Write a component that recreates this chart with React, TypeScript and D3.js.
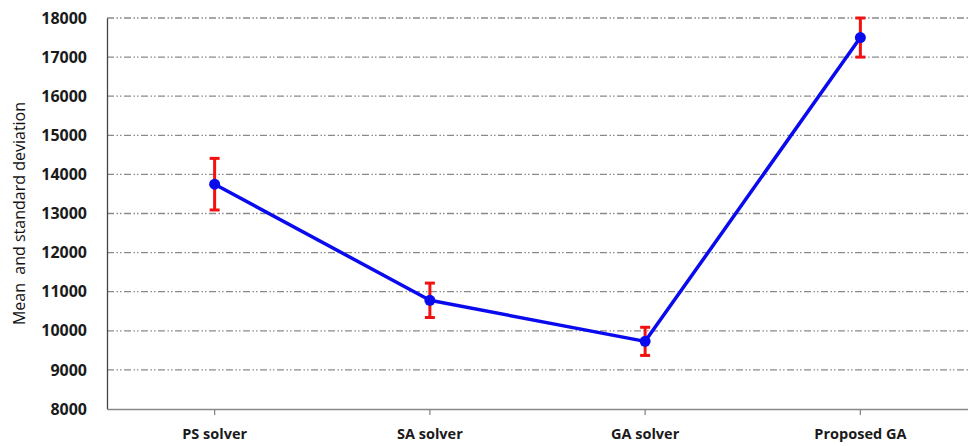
import React, { useEffect, useRef } from 'react';
import * as d3 from 'd3';

// chart values
const categories = ['PS solver', 'SA solver', 'GA solver', 'Proposed GA'];
const means = [13750, 10780, 9730, 17500];
const stdDevs = [660, 440, 360, 500];
const yTicks = [8000, 9000, 10000, 11000, 12000, 13000, 14000, 15000, 16000, 17000, 18000];

const FONT = '"Open Sans", sans-serif';

export default function App() {
  const svgRef = useRef<SVGSVGElement>(null);

  useEffect(() => {
    if (!svgRef.current) return;
    const width = 968;
    const height = 446;
    const margin = { top: 18, right: 0, bottom: 37, left: 107 };

    d3.select(svgRef.current).selectAll('*').remove();
    const svg = d3.select(svgRef.current)
      .attr('width', width)
      .attr('height', height)
      .style('font-family', FONT);

    const x = d3.scaleBand()
      .domain(categories)
      .range([margin.left, width - margin.right]);

    const y = d3.scaleLinear()
      .domain([8000, 18000])
      .range([height - margin.bottom, margin.top]);

    const data = categories.map((c, i) => ({ cat: c, mean: means[i], sd: stdDevs[i] }));
    const cx = (c: string) => (x(c) as number) + x.bandwidth() / 2;

    // gridlines
    svg.append('g')
      .selectAll('line')
      .data(yTicks.filter(t => t > 8000))
      .enter()
      .append('line')
      .attr('x1', margin.left)
      .attr('x2', width)
      .attr('y1', d => y(d))
      .attr('y2', d => y(d))
      .attr('stroke', '#8a8a8a')
      .attr('stroke-width', 1.3)
      .attr('stroke-dasharray', '7,2.5,1.5,2,1.5,2.5');

    // y axis
    const yAxis = svg.append('g')
      .attr('transform', `translate(${margin.left},0)`)
      .call(d3.axisLeft(y).tickValues(yTicks).tickSize(0).tickPadding(20).tickFormat(d3.format('d')));
    yAxis.attr('font-family', FONT);
    yAxis.select('.domain').attr('stroke', '#444').attr('stroke-width', 1.3);
    yAxis.selectAll('text')
      .attr('font-size', '16px')
      .attr('font-weight', 700)
      .attr('fill', '#1a1a1a');

    // x axis
    const xAxis = svg.append('g')
      .attr('transform', `translate(0,${height - margin.bottom})`)
      .call(d3.axisBottom(x).tickSize(6).tickSizeOuter(0).tickPadding(14));
    xAxis.attr('font-family', FONT);
    xAxis.select('.domain').attr('stroke', '#888').attr('stroke-width', 1.3);
    xAxis.selectAll('.tick line').attr('stroke', '#888').attr('stroke-width', 1.3);
    xAxis.selectAll('text')
      .attr('font-size', '14.5px')
      .attr('font-weight', 700)
      .attr('fill', '#1a1a1a');

    // y label
    svg.append('text')
      .attr('transform', `translate(25,${(margin.top + height - margin.bottom) / 2}) rotate(-90)`)
      .attr('text-anchor', 'middle')
      .attr('font-size', '16px')
      .attr('fill', '#111')
      .style('white-space', 'pre')
      .text('Mean  and standard deviation');

    // mean line
    const line = d3.line<typeof data[number]>()
      .x(d => cx(d.cat))
      .y(d => y(d.mean));
    svg.append('path')
      .datum(data)
      .attr('d', line)
      .attr('fill', 'none')
      .attr('stroke', '#0a0aee')
      .attr('stroke-width', 3.5)
      .attr('stroke-linejoin', 'round');

    // error bars
    const err = svg.append('g')
      .selectAll('g')
      .data(data)
      .enter()
      .append('g')
      .attr('stroke', '#f21111')
      .attr('stroke-width', 3);
    err.append('line')
      .attr('x1', d => cx(d.cat)).attr('x2', d => cx(d.cat))
      .attr('y1', d => y(d.mean - d.sd)).attr('y2', d => y(d.mean + d.sd));
    err.append('line')
      .attr('x1', d => cx(d.cat) - 5).attr('x2', d => cx(d.cat) + 5)
      .attr('y1', d => y(d.mean + d.sd)).attr('y2', d => y(d.mean + d.sd));
    err.append('line')
      .attr('x1', d => cx(d.cat) - 5).attr('x2', d => cx(d.cat) + 5)
      .attr('y1', d => y(d.mean - d.sd)).attr('y2', d => y(d.mean - d.sd));

    // markers
    svg.append('g')
      .selectAll('circle')
      .data(data)
      .enter()
      .append('circle')
      .attr('cx', d => cx(d.cat))
      .attr('cy', d => y(d.mean))
      .attr('r', 5.5)
      .attr('fill', '#0a0aee');
  }, []);

  return (
    <div style={{ position: 'absolute', left: 0, top: 0 }}>
      <svg ref={svgRef} style={{ display: 'block' }} />
    </div>
  );
}
